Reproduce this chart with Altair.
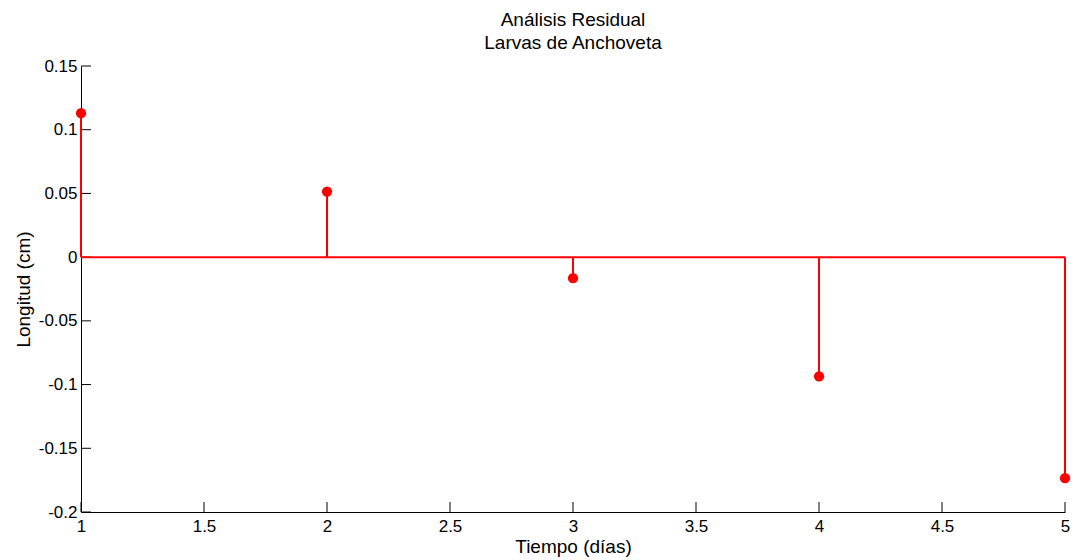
import altair as alt
import pandas as pd

tiempo = [1, 2, 3, 4, 5]
residuos = [0.113, 0.0515, -0.0165, -0.0935, -0.1735]
x_ticks = [1, 1.5, 2, 2.5, 3, 3.5, 4, 4.5, 5]
y_ticks = [-0.2, -0.15, -0.1, -0.05, 0, 0.05, 0.1, 0.15]

df = pd.DataFrame({"t": tiempo, "r": residuos, "zero": [0] * len(tiempo)})
dx = pd.DataFrame({"v": x_ticks})
dy = pd.DataFrame({"v": y_ticks})
base_df = pd.DataFrame({"x1": [1], "x2": [5], "y": [0]})

W, H = 984, 446
FONT = "Liberation Sans"

xs = alt.Scale(domain=[1, 5], nice=False, zero=False)
ys = alt.Scale(domain=[-0.2, 0.15], nice=False, zero=False)

x_axis = alt.Axis(values=x_ticks, title="Tiempo (días)", ticks=False, grid=False,
                  labelPadding=6, labelFontSize=17, titleFontSize=19, titlePadding=3,
                  labelFont=FONT, titleFont=FONT, titleFontWeight="normal",
                  domainColor="black", labelColor="black", titleColor="black",
                  labelFlush=False, labelOverlap=False, labelExpr="'' + datum.value")
y_axis = alt.Axis(values=y_ticks, title="Longitud (cm)", ticks=False, grid=False,
                  labelPadding=4, labelFontSize=17, titleFontSize=19, titlePadding=5,
                  labelFont=FONT, titleFont=FONT, titleFontWeight="normal",
                  domainColor="black", labelColor="black", titleColor="black",
                  labelFlush=False, labelOverlap=False, labelExpr="'' + datum.value")

baseline = alt.Chart(base_df).mark_rule(color="red", strokeWidth=2).encode(
    x=alt.X("x1:Q", scale=xs, axis=x_axis),
    x2="x2:Q",
    y=alt.Y("y:Q", scale=ys, axis=y_axis),
)

stems = alt.Chart(df).mark_rule(color="red", strokeWidth=2).encode(
    x=alt.X("t:Q", scale=xs),
    y=alt.Y("zero:Q", scale=ys),
    y2="r:Q",
)

points = alt.Chart(df).mark_circle(color="red", size=105, opacity=1).encode(
    x=alt.X("t:Q", scale=xs),
    y=alt.Y("r:Q", scale=ys),
)

xt = alt.Chart(dx).mark_rule(color="black", strokeWidth=1).encode(
    x=alt.X("v:Q", scale=xs),
    y=alt.value(H),
    y2=alt.value(H - 10),
)
yt = alt.Chart(dy).mark_rule(color="black", strokeWidth=1).encode(
    y=alt.Y("v:Q", scale=ys),
    x=alt.value(0),
    x2=alt.value(10),
)

chart = alt.layer(xt, yt, baseline, stems, points).properties(
    width=W, height=H,
    title=alt.TitleParams(["Análisis Residual", "Larvas de Anchoveta"], fontSize=19,
                          fontWeight="normal", font=FONT, color="black",
                          anchor="middle", offset=4, lineHeight=23),
    autosize=alt.AutoSizeParams(type="none"),
    padding={"left": 81, "top": 66, "right": 7, "bottom": 48},
).configure(background="white", view=alt.ViewConfig(stroke=None))

chart.save("out.html", embed_options={"renderer": "svg", "actions": False})
